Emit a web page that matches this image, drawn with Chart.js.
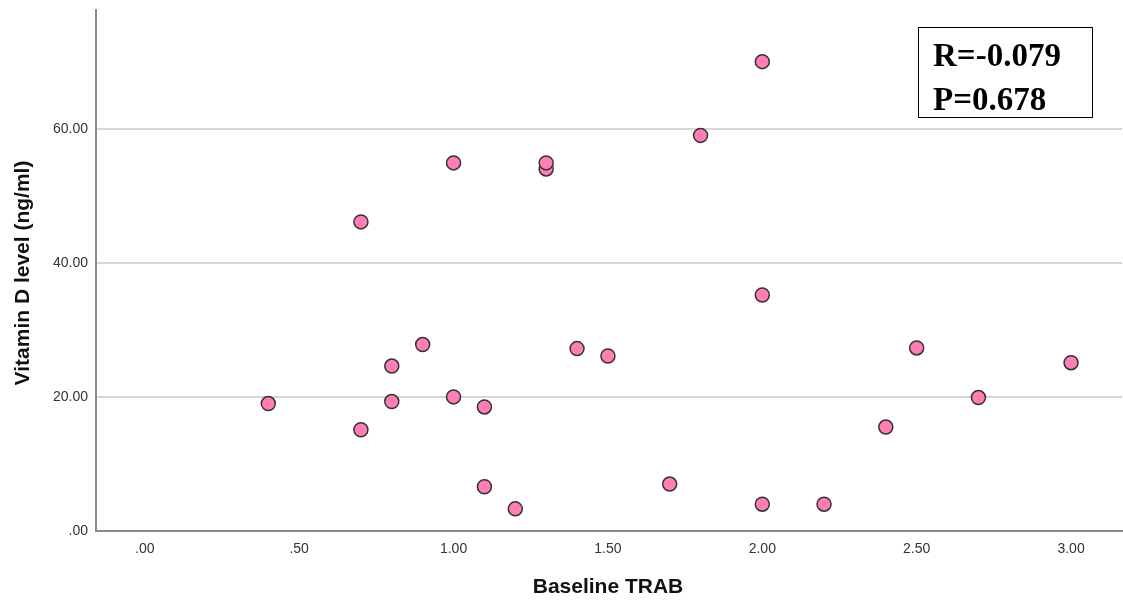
<!DOCTYPE html>
<html>
<head>
<meta charset="utf-8">
<script src="https://cdn.jsdelivr.net/npm/chart.js@4/dist/chart.umd.min.js"></script>
<style>
  html, body { margin: 0; padding: 0; background: #ffffff; }
  #wrap { width: 1123px; height: 603px; position: relative; }
</style>
</head>
<body>
<div id="wrap"><canvas id="c" width="1123" height="603"></canvas></div>
<script>
// Data
const trabValues = [0.4, 0.7, 0.7, 0.8, 0.8, 0.9, 1.0, 1.0, 1.1, 1.1, 1.2, 1.3, 1.3, 1.4, 1.5, 1.7, 1.8, 2.0, 2.0, 2.0, 2.2, 2.4, 2.5, 2.7, 3.0];
const vitDValues = [19.0, 15.1, 46.1, 24.6, 19.3, 27.8, 54.9, 20.0, 18.5, 6.6, 3.3, 54.0, 54.9, 27.2, 26.1, 7.0, 59.0, 70.0, 35.2, 4.0, 4.0, 15.5, 27.3, 19.9, 25.1];
const xTickValues = [0, 0.5, 1.0, 1.5, 2.0, 2.5, 3.0];
const yTickValues = [0, 20, 40, 60];
const xAxisTitle = 'Baseline TRAB';
const yAxisTitle = 'Vitamin D level (ng/ml)';
const statLines = ['R=-0.079', 'P=0.678'];

function fmt(v) {
  let s = Number(v).toFixed(2);
  if (s.startsWith('0.')) s = s.substring(1);
  return s;
}

const points = trabValues.map((x, i) => ({ x: x, y: vitDValues[i] }));

const overlay = {
  id: 'overlay',
  afterDraw(chart) {
    const ctx = chart.ctx;
    ctx.save();
    ctx.fillStyle = '#111111';
    ctx.font = 'bold 21px "Liberation Sans", Arial, sans-serif';
    ctx.textAlign = 'center';
    ctx.textBaseline = 'middle';
    ctx.fillText(xAxisTitle, 608, 587);
    ctx.translate(23, 273);
    ctx.rotate(-Math.PI / 2);
    ctx.fillText(yAxisTitle, 0, 0);
    ctx.restore();

    ctx.save();
    ctx.fillStyle = '#ffffff';
    ctx.fillRect(918, 27, 174, 90);
    ctx.strokeStyle = '#000000';
    ctx.lineWidth = 1;
    ctx.strokeRect(918.5, 27.5, 174, 90);
    ctx.fillStyle = '#000000';
    ctx.font = 'bold 33px "Liberation Serif", "Times New Roman", serif';
    ctx.textAlign = 'left';
    ctx.textBaseline = 'alphabetic';
    ctx.fillText(statLines[0], 933, 66);
    ctx.fillText(statLines[1], 933, 110);
    ctx.restore();
  }
};

new Chart(document.getElementById('c'), {
  type: 'scatter',
  data: {
    datasets: [{
      data: points,
      backgroundColor: '#ff7fb5',
      borderColor: '#333333',
      borderWidth: 1.5,
      pointRadius: 7,
      pointHoverRadius: 7
    }]
  },
  options: {
    responsive: false,
    animation: false,
    devicePixelRatio: 1,
    layout: { autoPadding: false, padding: { top: 10, right: 1, left: 0, bottom: 0 } },
    plugins: {
      legend: { display: false },
      tooltip: { enabled: false }
    },
    scales: {
      x: {
        type: 'linear',
        position: 'bottom',
        min: -0.158,
        max: 3.165,
        afterBuildTicks: (scale) => { scale.ticks = xTickValues.map(v => ({ value: v })); },
        afterFit: (scale) => { scale.height = 72; scale.paddingLeft = 0; scale.paddingRight = 0; },
        ticks: {
          callback: (v) => fmt(v),
          color: '#333333',
          font: { family: '"Liberation Sans", Arial, sans-serif', size: 14 },
          padding: 10,
          maxRotation: 0,
          autoSkip: false
        },
        grid: { display: false, drawTicks: false },
        border: { display: true, color: '#8a8a8a', width: 2 },
        title: { display: false }
      },
      y: {
        type: 'linear',
        min: 0,
        max: 77.7,
        afterBuildTicks: (scale) => { scale.ticks = yTickValues.map(v => ({ value: v })); },
        afterFit: (scale) => { scale.width = 96; scale.paddingTop = 0; scale.paddingBottom = 0; },
        ticks: {
          callback: (v) => fmt(v),
          color: '#333333',
          font: { family: '"Liberation Sans", Arial, sans-serif', size: 14 },
          padding: 8
        },
        grid: {
          drawTicks: false,
          color: (c) => (c.tick && c.tick.value === 0) ? 'rgba(0,0,0,0)' : '#d6d6d6',
          lineWidth: 2
        },
        border: { display: true, color: '#8a8a8a', width: 2 },
        title: { display: false }
      }
    }
  },
  plugins: [overlay]
});
</script>
</body>
</html>
